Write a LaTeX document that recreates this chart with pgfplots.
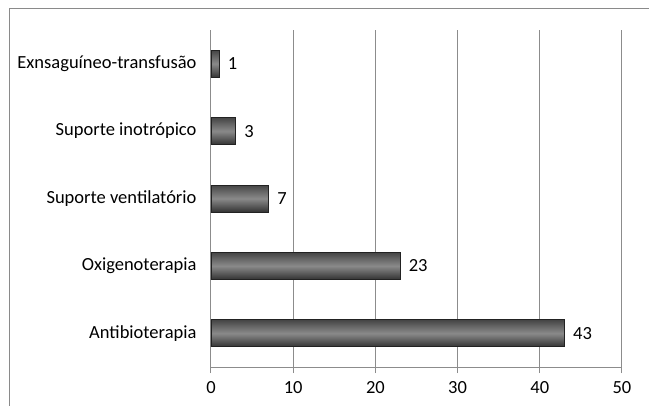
\documentclass[border=0pt]{standalone}
\usepackage{pgfplots}
\pgfplotsset{compat=1.18}
\usepackage{fontspec}
\setmainfont{Carlito}
\definecolor{gridc}{HTML}{8C8C8C}
\definecolor{framec}{HTML}{8A8A8A}
\definecolor{barTop}{HTML}{454545}
\definecolor{barMid}{HTML}{8A8A8A}
\definecolor{barBot}{HTML}{333333}
\definecolor{barDraw}{HTML}{222222}
\begin{document}
\begin{tikzpicture}
\path[use as bounding box] (-211pt,-38pt) rectangle (438pt,367pt);
\draw[framec, line width=1.5pt] (-201.5pt,-40pt) -- (-201.5pt,358.5pt) -- (440pt,358.5pt);
\begin{axis}[
  at={(0pt,0pt)}, anchor=south west,
  scale only axis,
  width=411pt, height=337pt,
  xmin=0, xmax=50,
  ymin=0.5, ymax=5.5,
  axis lines=left,
  axis line style={-, gridc, line width=1pt},
  xtick={0,10,20,30,40,50},
  xmajorgrids,
  major grid style={gridc, line width=1pt},
  ytick={1,2,3,4,5},
  yticklabels={Antibioterapia,Oxigenoterapia,Suporte ventilatório,Suporte inotrópico,Exnsaguíneo-transfusão},
  minor ytick={0.5,1.5,2.5,3.5,4.5,5.5},
  ytick style={draw=none},
  minor tick length=6pt,
  xtick style={gridc, line width=1pt},
  major tick length=6pt,
  tick align=outside,
  every minor tick/.style={gridc, line width=1pt},
  ticklabel style={font=\fontsize{18.5}{22}\selectfont, black},
  yticklabel style={xshift=-5pt},
  xticklabel style={yshift=-5pt},
  /pgf/number format/assume math mode=true,
  clip=false,
  barstyle/.style={xbar, bar width=27pt, bar shift=0pt, draw=barDraw, line width=0.8pt,
    top color=barTop, bottom color=barBot, middle color=barMid,
    nodes near coords,
    every node near coord/.append style={font=\fontsize{18.5}{22}\selectfont, black, anchor=west, xshift=5pt}},
]
\addplot[barstyle] coordinates {(43,1)};
\addplot[barstyle] coordinates {(23,2)};
\addplot[barstyle] coordinates {(7,3)};
\addplot[barstyle] coordinates {(3,4)};
\addplot[barstyle] coordinates {(1,5)};
\end{axis}
\end{tikzpicture}
\end{document}
